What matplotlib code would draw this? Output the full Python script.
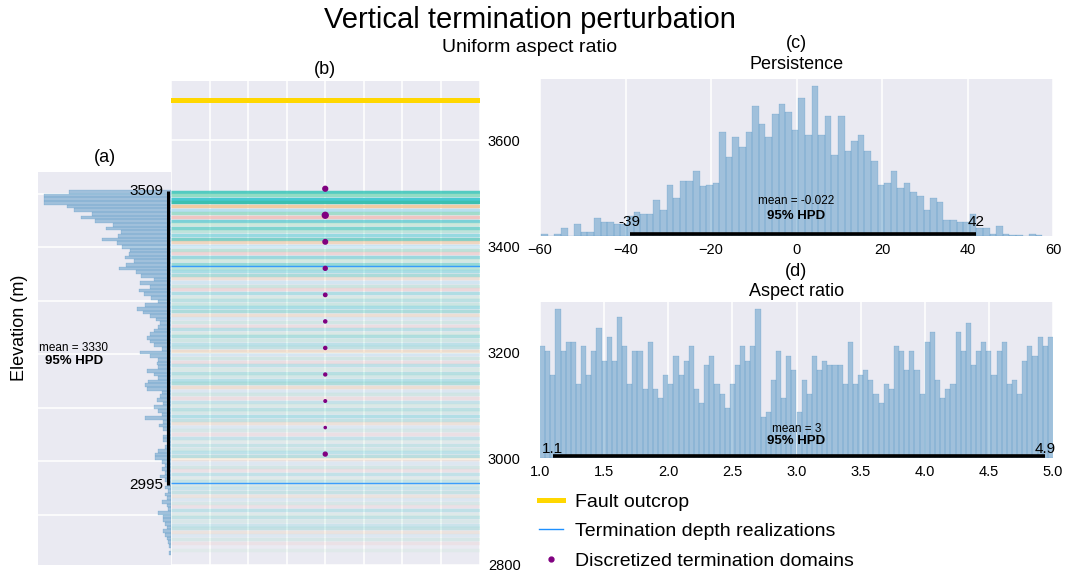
"""
Vertical termination perturbation: termination depth realizations,
persistence and aspect ratio posteriors
"""

import numpy as np
import matplotlib.pyplot as plt
from matplotlib.lines import Line2D
from matplotlib.colors import to_rgba

plt.rcParams['font.family'] = ['Liberation Sans', 'DejaVu Sans']

# (a) termination elevation histogram, 100 bins from the top down
depth_top, depth_bottom = 3507, 2825
depth_counts = [102, 127, 127, 127, 104, 97, 79, 90, 76, 58, 65, 50, 53, 69, 54, 49, 41, 42, 46, 37,
                45, 52, 35, 30, 17, 31, 21, 32, 27, 20, 13, 26, 34, 28, 21, 15, 11, 13, 17, 21,
                24, 21, 17, 9, 31, 21, 13, 14, 13, 24, 17, 13, 23, 26, 24, 9, 11, 14, 8, 17,
                13, 9, 26, 8, 12, 8, 4, 8, 8, 4, 6, 13, 16, 16, 9, 6, 9, 6, 11, 6,
                4, 6, 3, 6, 4, 9, 4, 3, 13, 8, 8, 6, 4, 8, 6, 4, 3, 2, 0, 2]
depth_mean = 3330
depth_hpd = (2995, 3509)
depth_hpd_bar = (2955, 3505)   # where the black bar sits in the original panel

# (b) realizations
fault_outcrop = 3677
highlight_depths = [3364, 2955]
domain_depths = [3509, 3459, 3409, 3359, 3309, 3259, 3209, 3159, 3109, 3059, 3009]
domain_weights = [12, 18, 11, 8, 6, 5, 5, 4.5, 3.5, 2.5, 8]

# (c) persistence
pers_range = (-59.7, 57.5)
pers_counts = [2, 0, 2, 8, 0, 12, 4, 4, 18, 14, 14, 12, 12, 20, 24, 22, 22, 36, 26, 51,
               38, 55, 55, 65, 50, 51, 53, 104, 79, 99, 89, 104, 130, 112, 99, 122, 132, 124, 106, 138,
               101, 150, 101, 120, 81, 120, 85, 95, 101, 85, 75, 51, 53, 65, 48, 53, 44, 40, 26, 38,
               34, 16, 16, 14, 14, 22, 8, 8, 2, 10, 2, 1, 1, 0, 2, 1]
pers_mean = -0.022
pers_hpd = (-39, 42)

# (d) aspect ratio
aspect_range = (1.0, 5.0)
aspect_counts = [112, 107, 83, 149, 107, 116, 116, 74, 112, 83, 107, 130, 97, 121, 97, 141, 112, 74, 107, 107,
                 69, 116, 69, 60, 83, 74, 102, 83, 97, 112, 69, 55, 93, 102, 74, 64, 50, 74, 93, 112,
                 97, 112, 149, 41, 46, 78, 107, 60, 102, 88, 46, 78, 64, 102, 88, 97, 93, 93, 93, 74,
                 116, 74, 83, 88, 78, 64, 55, 74, 69, 112, 107, 88, 107, 88, 64, 116, 126, 78, 60, 69,
                 74, 126, 107, 135, 93, 107, 116, 107, 83, 107, 116, 74, 78, 64, 97, 112, 102, 121, 112, 121]
aspect_mean = 3
aspect_hpd = (1.1, 4.94)
aspect_hpd_labels = ('1.1', '4.9')

BG = '#EAEAF2'
HIST = '#1f77b4'
W, H = 1070, 573

fig = plt.figure(figsize=(W / 100, H / 100), dpi=100)


def px_axes(left, top, right, bottom):
    return fig.add_axes([left / W, 1 - bottom / H, (right - left) / W, (bottom - top) / H])


def dark_axes(ax):
    ax.set_facecolor(BG)
    for sp in ax.spines.values():
        sp.set_visible(False)
    ax.tick_params(length=0, labelsize=10.5, pad=5)
    ax.set_axisbelow(True)


def hist_panel(ax, counts, rng, mean, hpd, hpd_labels, ytop, ymean, yhpd, ylab):
    edges = np.linspace(rng[0], rng[1], len(counts) + 1)
    ax.bar(edges[:-1], counts, width=np.diff(edges), align='edge',
           color=HIST, alpha=0.36, edgecolor=HIST, linewidth=0.3)
    ax.plot(hpd, [ytop * 0.012] * 2, color='k', lw=2.6, solid_capstyle='butt')
    ax.text(mean, ymean, 'mean = {}'.format(mean), ha='center', va='center', fontsize=8.5)
    ax.text(mean, yhpd, '95% HPD', ha='center', va='center', fontsize=9.5, weight='bold')
    for x, lab in zip(hpd, hpd_labels):
        ax.text(x, ylab, lab, ha='center', va='center', fontsize=11)
    ax.set_ylim(0, ytop)
    ax.set_yticks([])
    ax.grid(axis='x', color='white', lw=1.1)


# (a) histogram of termination elevations
A_LIM = (2806, 3541)
ax_a = px_axes(38, 172, 171, 565)
dark_axes(ax_a)
d_edges = np.linspace(depth_top, depth_bottom, len(depth_counts) + 1)
d_centers = (d_edges[:-1] + d_edges[1:]) / 2
d_height = abs(d_edges[1] - d_edges[0])
ax_a.barh(d_centers, depth_counts, height=d_height,
          color=HIST, alpha=0.36, edgecolor=HIST, linewidth=0.3)
ax_a.plot([3, 3], depth_hpd_bar, color='k', lw=2.2, solid_capstyle='butt')
for bar_end, lab in zip(depth_hpd_bar, depth_hpd):
    ax_a.text(0.94, (bar_end - A_LIM[0]) / (A_LIM[1] - A_LIM[0]), str(lab),
              transform=ax_a.transAxes, ha='right', va='center', fontsize=11)
ax_a.text(0.265, 0.553, 'mean = {}'.format(depth_mean), transform=ax_a.transAxes,
          ha='center', va='center', fontsize=8.5)
ax_a.text(0.27, 0.518, '95% HPD', transform=ax_a.transAxes,
          ha='center', va='center', fontsize=9.5, weight='bold')
ax_a.set_xlim(133, 0)
ax_a.set_ylim(*A_LIM)
ax_a.set_xticks([])
ax_a.set_yticks(np.arange(2900, 3600, 100))
ax_a.set_yticklabels([])
ax_a.grid(axis='y', color='white', lw=1.1)
ax_a.set_title('(a)', fontsize=13, pad=7)

fig.text(20 / W, 1 - 328 / H, 'Elevation (m)', rotation=90, ha='center', va='center', fontsize=13)

# (b) termination depth realizations
ax_b = px_axes(171, 81, 479.5, 565)
dark_axes(ax_b)
palette = ['#2ec4b6', '#8fdcc2', '#40c8d0', '#35bfae', '#f3c48f', '#a8dcf0',
           '#7fd6b8', '#f2b8b0', '#3cc3c8', '#b5e6c8']
cmax = max(depth_counts)
line_colors = [to_rgba(palette[i % len(palette)], 0.16 + 0.8 * c / cmax)
               for i, c in enumerate(depth_counts)]
keep = [i for i, c in enumerate(depth_counts) if c > 0]
ax_b.hlines(d_centers[keep], -4, 4, colors=[line_colors[i] for i in keep], lw=2.5)
ax_b.hlines(highlight_depths, -4, 4, colors='#1e90ff', lw=1.0, alpha=0.85)
ax_b.axhline(fault_outcrop, color='#FFD700', lw=3.6)
ax_b.scatter(np.zeros(len(domain_depths)), domain_depths, s=domain_weights,
             color='purple', zorder=5)
ax_b.set_xlim(-4, 4)
ax_b.set_ylim(2806, 3712)
ax_b.set_xticks(np.arange(-4, 5, 1))
ax_b.set_xticklabels([])
ax_b.set_yticks(np.arange(2800, 3700, 200))
ax_b.yaxis.tick_right()
ax_b.tick_params(axis='y', labelsize=10.5, pad=6)
ax_b.grid(color='white', lw=1.1)
ax_b.set_title('(b)', fontsize=13, pad=5)

# (c) persistence
ax_c = px_axes(540, 79, 1053, 236)
dark_axes(ax_c)
hist_panel(ax_c, pers_counts, pers_range, pers_mean, pers_hpd,
           [str(v) for v in pers_hpd], 157, 35, 20, 14)
ax_c.set_xlim(-60, 60)
ax_c.set_xticks(np.arange(-60, 61, 20))
ax_c.set_title('(c)\nPersistence', fontsize=13, pad=7, linespacing=1.35)

# (d) aspect ratio
ax_d = px_axes(540, 302, 1053, 458)
dark_axes(ax_d)
hist_panel(ax_d, aspect_counts, aspect_range, aspect_mean, aspect_hpd,
           aspect_hpd_labels, 156, 29, 17, 9)
ax_d.set_xlim(1.0, 5.0)
ax_d.set_xticks(np.arange(1.0, 5.01, 0.5))
ax_d.set_title('(d)\nAspect ratio', fontsize=13, pad=4, linespacing=1.25)

fig.text(530 / W, 1 - 20 / H, 'Vertical termination perturbation',
         ha='center', va='center', fontsize=21)
fig.text(530 / W, 1 - 47 / H, 'Uniform aspect ratio',
         ha='center', va='center', fontsize=14)

handles = [Line2D([], [], color='#FFD700', lw=3.6),
           Line2D([], [], color='#1e90ff', lw=1.0),
           Line2D([], [], color='purple', marker='o', ms=3.5, ls='none')]
labels = ['Fault outcrop', 'Termination depth realizations', 'Discretized termination domains']
fig.legend(handles, labels, loc='upper left', bbox_to_anchor=(539 / W, 1 - 493 / H),
           frameon=False, fontsize=14, borderpad=0, borderaxespad=0,
           handlelength=1.25, handletextpad=0.6, labelspacing=0.62)

fig.savefig('out.png', dpi=100)
